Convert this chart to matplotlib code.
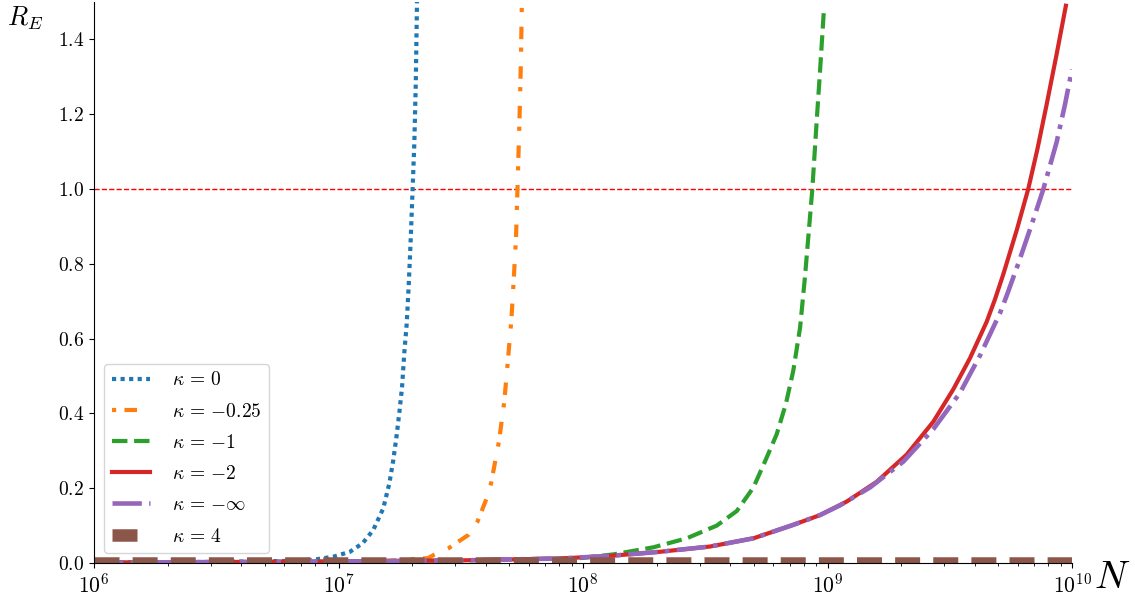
import numpy as np
import matplotlib
matplotlib.use("Agg")
import matplotlib.pyplot as plt

plt.rcParams['mathtext.fontset'] = 'cm'
plt.rcParams['font.family'] = 'serif'
plt.rcParams['font.serif'] = ['cmr10', 'DejaVu Serif']
plt.rcParams['axes.formatter.use_mathtext'] = True

# values, x given as log10(N)
logN_k0 = [6.0, 6.5, 6.84, 6.91, 6.98, 7.047, 7.099, 7.142, 7.183, 7.208, 7.224,
           7.238, 7.250, 7.260, 7.269, 7.279, 7.287, 7.295, 7.302, 7.310, 7.316, 7.321]
R_k0 = [0.001, 0.003, 0.006, 0.010, 0.017, 0.030, 0.053, 0.088, 0.146, 0.213, 0.275,
        0.342, 0.409, 0.471, 0.561, 0.640, 0.740, 0.860, 0.980, 1.120, 1.280, 1.500]

logN_k025 = [6.0, 6.8, 7.2, 7.366, 7.388, 7.449, 7.531, 7.568, 7.606, 7.624, 7.656,
             7.678, 7.693, 7.707, 7.717, 7.726, 7.732, 7.740, 7.746, 7.750]
R_k025 = [0.0005, 0.002, 0.006, 0.013, 0.021, 0.039, 0.075, 0.110, 0.173, 0.213, 0.324,
          0.431, 0.543, 0.650, 0.761, 0.870, 1.000, 1.180, 1.340, 1.500]

logN_k1 = [6.0, 7.0, 7.5, 7.988, 8.124, 8.288, 8.424, 8.547, 8.629, 8.697, 8.744,
           8.792, 8.830, 8.860, 8.888, 8.908, 8.928, 8.938, 8.956, 8.969, 8.986]
R_k1 = [0.0005, 0.004, 0.007, 0.013, 0.023, 0.042, 0.066, 0.100, 0.139, 0.202, 0.271,
        0.344, 0.426, 0.514, 0.630, 0.766, 0.922, 1.000, 1.184, 1.311, 1.486]

logN_k2 = [6.0, 7.0, 7.5, 7.906, 8.110, 8.315, 8.519, 8.697, 8.860, 8.969, 9.078,
           9.201, 9.324, 9.433, 9.515, 9.583, 9.651, 9.685, 9.719, 9.774, 9.821,
           9.858, 9.896, 9.937, 9.975]
R_k2 = [0.001, 0.004, 0.007, 0.012, 0.019, 0.030, 0.044, 0.066, 0.102, 0.128, 0.164,
        0.217, 0.290, 0.378, 0.465, 0.548, 0.645, 0.705, 0.772, 0.890, 1.000,
        1.105, 1.225, 1.360, 1.490]

logN_kinf = [6.0, 7.0, 7.5, 7.906, 8.110, 8.315, 8.519, 8.697, 8.860, 8.969, 9.051,
             9.174, 9.310, 9.433, 9.542, 9.624, 9.706, 9.733, 9.780, 9.835, 9.883,
             9.937, 9.971, 10.0]
R_kinf = [0.001, 0.004, 0.007, 0.012, 0.019, 0.030, 0.044, 0.066, 0.102, 0.128, 0.154,
          0.202, 0.271, 0.358, 0.455, 0.555, 0.669, 0.715, 0.800, 0.905, 1.000,
          1.125, 1.225, 1.320]

logN_k4 = [6.0, 7.0, 8.0, 9.0, 10.0]
R_k4 = [0.0, 0.0, 0.0, 0.0, 0.0]

fig = plt.figure(figsize=(11.35, 6.02), dpi=100)
ax = fig.add_axes([94 / 1135, 39 / 602, 978 / 1135, 561 / 602])

ax.axhline(1.0, color='red', ls='--', lw=1)

ax.plot(10 ** np.array(logN_k0), R_k0, color='#1f77b4', lw=3,
        linestyle=(0, (1, 1.05)), label=r'$\kappa \,=\, 0$')
ax.plot(10 ** np.array(logN_k025), R_k025, color='#ff7f0e', lw=3,
        linestyle=(0, (1, 2, 3, 3.5)), label=r'$\kappa \,=\, {-}0.25$')
ax.plot(10 ** np.array(logN_k1), R_k1, color='#2ca02c', lw=3,
        linestyle='--', label=r'$\kappa \,=\, {-}1$')
ax.plot(10 ** np.array(logN_k2), R_k2, color='#d62728', lw=3,
        linestyle='-', label=r'$\kappa \,=\, {-}2$')
ax.plot(10 ** np.array(logN_kinf), R_kinf, color='#9467bd', lw=3.3,
        linestyle='-.', label=r'$\kappa \,=\, {-}\infty$')
ax.plot(10 ** np.array(logN_k4), R_k4, color='#8c564b', lw=9,
        linestyle=(0, (2, 1.05)), label=r'$\kappa \,=\, 4$')

ax.set_xscale('log')
ax.set_xlim(1e6, 1e10)
ax.set_ylim(0, 1.5)
ax.set_yticks([0.0, 0.2, 0.4, 0.6, 0.8, 1.0, 1.2, 1.4])
ax.tick_params(axis='y', labelsize=14)
ax.tick_params(axis='x', labelsize=15.5)
ax.spines['top'].set_visible(False)
ax.spines['right'].set_visible(False)

ax.set_ylabel(r'$R_E$', rotation=0, fontsize=19, ha='center', va='center')
ax.yaxis.set_label_coords(-0.07, 0.971)
ax.set_xlabel(r'$N$', fontsize=28, ha='center', va='center')
ax.xaxis.set_label_coords(1.041, -0.027)

ax.legend(loc='lower left', fontsize=14, labelspacing=0.68, handletextpad=1.1)

fig.savefig('out.png', dpi=100)
